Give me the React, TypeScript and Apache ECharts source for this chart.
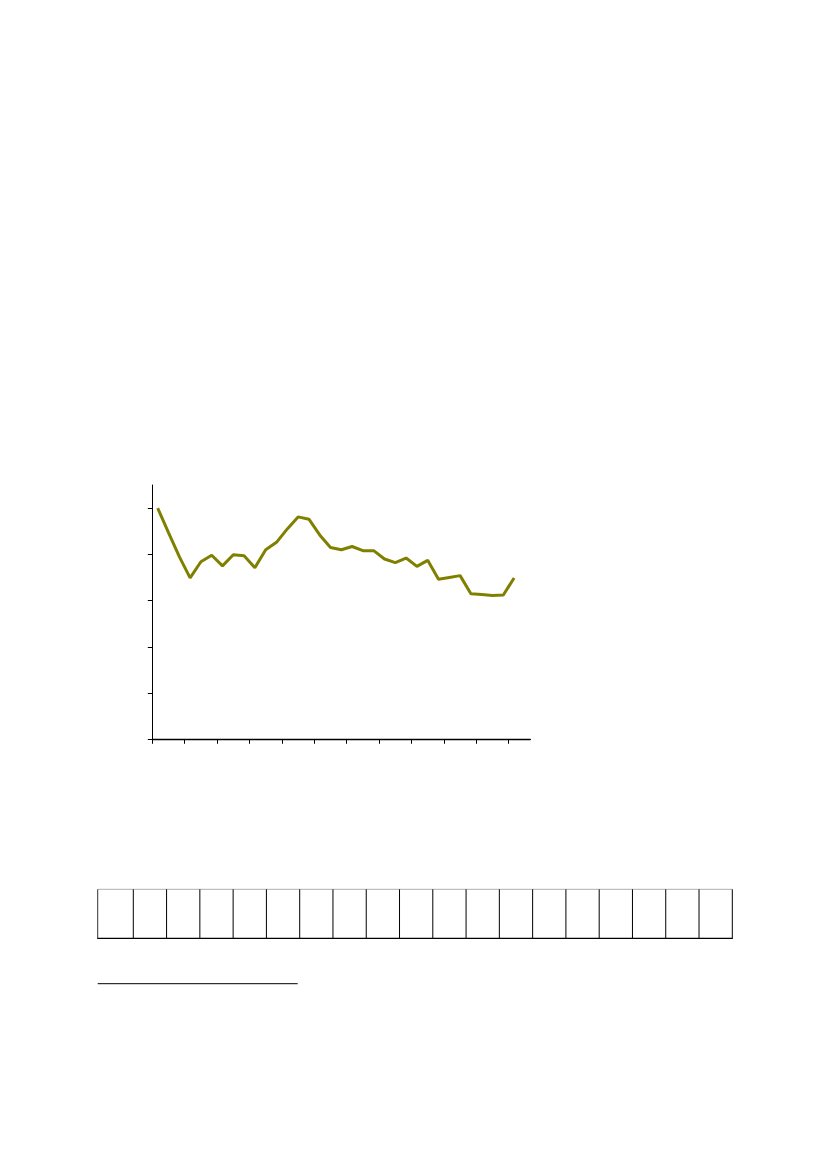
import * as echarts from "echarts";
import { useEffect, useRef } from "react";

// series values, one per period
const values = [
  50.0, 44.7, 39.5, 34.9, 38.4, 39.8, 37.5, 39.9, 39.7, 37.1, 41.0, 42.6,
  45.5, 48.1, 47.6, 44.2, 41.5, 41.0, 41.7, 40.8, 40.8, 39.0, 38.2, 39.2,
  37.4, 38.7, 34.6, 35.0, 35.4, 31.5, 31.3, 31.1, 31.2, 34.9,
];
const xTicks = [0, 3, 6, 9, 12, 15, 18, 21, 24, 27, 30, 33];
const yTicks = [0, 10, 20, 30, 40, 50];
const tableColumns = 19;

export default function App() {
  const chartRef = useRef<HTMLDivElement | null>(null);

  useEffect(() => {
    const el = chartRef.current;
    if (!el) return;
    const chart = echarts.init(el, undefined, { renderer: "svg" });

    // empty table below the chart
    const tLeft = 97.7;
    const tRight = 732.3;
    const tTop = 889.3;
    const tBottom = 938.3;
    const firstCol = 35.6;
    const colW = (tRight - tLeft - firstCol) / (tableColumns - 1);
    const tableLines: any[] = [
      {
        type: "line",
        shape: { x1: tLeft, y1: tTop, x2: tRight, y2: tTop },
        style: { stroke: "#b0b0b0", lineWidth: 1 },
      },
      {
        type: "line",
        shape: { x1: tLeft - 0.5, y1: tBottom, x2: tRight + 0.5, y2: tBottom },
        style: { stroke: "#000", lineWidth: 1.2 },
      },
      {
        type: "line",
        shape: { x1: tLeft, y1: tTop, x2: tLeft, y2: tBottom },
        style: { stroke: "#333", lineWidth: 1 },
      },
    ];
    for (let i = 0; i < tableColumns; i++) {
      const x = tLeft + firstCol + i * colW;
      tableLines.push({
        type: "line",
        shape: { x1: x, y1: tTop, x2: x, y2: tBottom },
        style: { stroke: "#000", lineWidth: 1 },
      });
    }
    // footnote separator
    tableLines.push({
      type: "line",
      shape: { x1: 97.7, y1: 983.7, x2: 297.7, y2: 983.7 },
      style: { stroke: "#000", lineWidth: 1 },
    });

    const option: echarts.EChartsOption = {
      animation: false,
      grid: {
        left: 152.3,
        top: 485,
        width: 378,
        height: 254.3,
        containLabel: false,
      },
      xAxis: {
        type: "value",
        min: 0,
        max: 35,
        axisLine: { show: true, lineStyle: { color: "#000", width: 1.3 } },
        axisTick: {
          show: true,
          length: 4.5,
          customValues: xTicks,
          lineStyle: { color: "#000", width: 1 },
        },
        axisLabel: { show: false },
        splitLine: { show: false },
      },
      yAxis: {
        type: "value",
        min: 0,
        max: 55,
        axisLine: { show: true, lineStyle: { color: "#000", width: 1 } },
        axisTick: {
          show: true,
          length: 4.5,
          customValues: yTicks,
          lineStyle: { color: "#000", width: 1 },
        },
        axisLabel: { show: false },
        splitLine: { show: false },
      },
      series: [
        {
          type: "line",
          data: values.map((v, i) => [i + 0.5, v]),
          showSymbol: false,
          lineStyle: { color: "#808000", width: 3 },
          itemStyle: { color: "#808000" },
        },
      ],
      graphic: tableLines,
    };

    chart.setOption(option);
    return () => {
      if (!chart.isDisposed()) chart.dispose();
    };
  }, []);

  return (
    <div
      ref={chartRef}
      style={{ position: "absolute", left: 0, top: 0, width: 827, height: 1169 }}
    />
  );
}
